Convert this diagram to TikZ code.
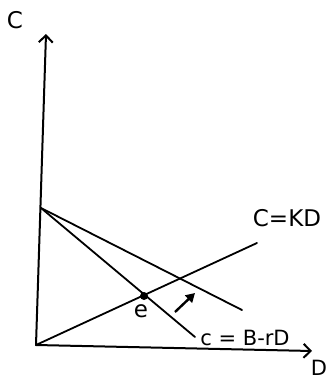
\documentclass[tikz,border=0pt]{standalone}
\usepackage{fontspec}
\setmainfont{DejaVu Sans}
\usetikzlibrary{arrows.meta}
\tikzset{
  ln/.style={line width=1.8pt, line cap=round},
  axis/.style={line width=2pt, line cap=round, -{Straight Barb[length=7pt,width=14pt,line width=2pt]}},
  lbl/.style={inner sep=0pt, font=\fontsize{23}{25}\selectfont},
}
\begin{document}
\begin{tikzpicture}[x=1pt,y=-1pt]
\useasboundingbox (0,0) rectangle (327,380);
\coordinate (O) at (36,345);
\coordinate (Ctop) at (46,34);
\coordinate (Dend) at (312,351);
\coordinate (I) at (41,208);
\coordinate (L1) at (242,310);
\coordinate (L2) at (195,337);
\coordinate (K) at (257,243);
\coordinate (As) at (175,312);
\coordinate (Ae) at (195,293);
\draw[axis] (O) -- (Ctop);
\draw[axis] (O) -- (Dend);
\draw[ln] (I) -- (L1);
\draw[ln] (I) -- (L2);
\draw[ln] (O) -- (K);
\node[circle, fill, inner sep=0pt, minimum size=8pt] (e) at (144,296) {};
\draw[line width=2.4pt, -{Triangle[length=9pt,width=10pt]}] (As) -- (Ae);
\node[lbl] (Clab) at (15,20) {C};
\node[lbl, font=\fontsize{21}{23}\selectfont] (Dlab) at (319,368) {D};
\node[lbl] (elab) at (141,311) {e};
\node[lbl, anchor=center] (kd) at (287,218) {C=KD};
\node[lbl, font=\fontsize{21}{23}\selectfont] (brd) at (245,338) {c = B-rD};
\end{tikzpicture}
\end{document}
